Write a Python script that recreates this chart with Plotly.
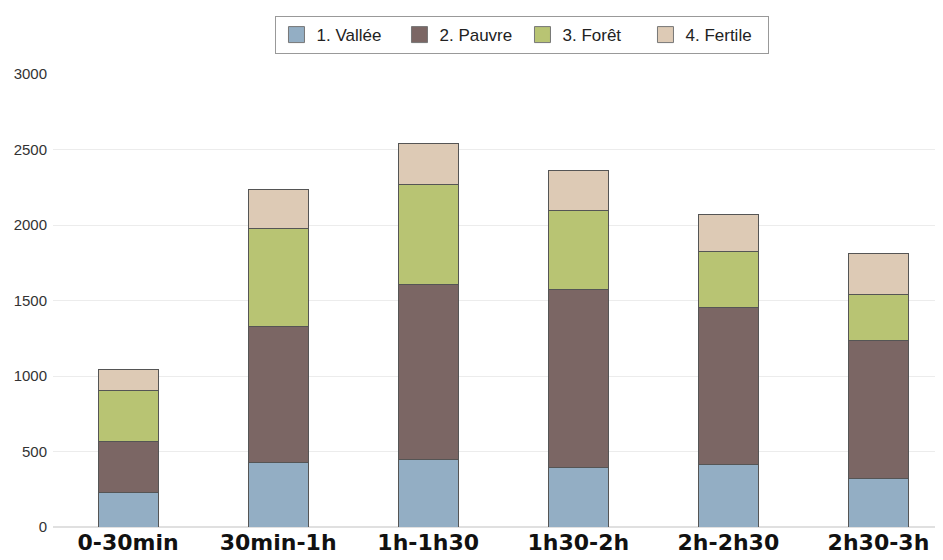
import plotly.graph_objects as go

categories = ["0-30min", "30min-1h", "1h-1h30", "1h30-2h", "2h-2h30", "2h30-3h"]
vallee = [230, 424, 450, 397, 415, 322]
pauvre = [333, 901, 1153, 1179, 1041, 911]
foret = [344, 649, 662, 523, 366, 308]
fertile = [133, 264, 278, 259, 246, 270]

series = [
    ("1. Vallée", vallee, "#93aec4"),
    ("2. Pauvre", pauvre, "#7b6664"),
    ("3. Forêt", foret, "#b8c473"),
    ("4. Fertile", fertile, "#ddcab5"),
]

fig = go.Figure()
for name, vals, col in series:
    fig.add_trace(go.Bar(
        x=categories, y=vals, name=name, legendgroup=name, showlegend=False,
        marker=dict(color=col, line=dict(color="#555555", width=1)),
        width=0.4,
    ))
    # legend entry with a bigger square swatch
    fig.add_trace(go.Scatter(
        x=[None], y=[None], name=name, legendgroup=name, mode="markers",
        marker=dict(symbol="square", size=16, color=col, line=dict(color="#777777", width=1)),
    ))

# page body has an 8px margin, so the figure is a bit smaller than the window
fig.update_layout(
    barmode="stack",
    width=935, height=552,
    margin=dict(l=45, r=0, t=66, b=33, autoexpand=False),
    plot_bgcolor="white",
    paper_bgcolor="white",
    font=dict(family="Liberation Sans, Arial, sans-serif", color="#333333"),
    legend=dict(
        orientation="h", x=0.5275, xanchor="center", y=1.086, yanchor="middle",
        bordercolor="#999999", borderwidth=1, bgcolor="white",
        font=dict(size=17, color="#222222"),
        itemwidth=30, entrywidth=78,
        traceorder="normal",
    ),
    xaxis=dict(
        range=[-0.5, 5.43], automargin=False,
        tickfont=dict(size=22, color="#111111", family="DejaVu Sans, sans-serif"),
        showgrid=False, showline=False, ticks="",
    ),
    yaxis=dict(
        range=[0, 3000], dtick=500, automargin=False,
        gridcolor="#ececec", gridwidth=1,
        tickfont=dict(size=15, color="#333333"),
        zeroline=True, zerolinecolor="#e0e0e0",
        ticks="", ticklabelstandoff=5,
    ),
)
fig.update_xaxes(tickprefix="<b>", ticksuffix="</b>")

fig.write_html("out.html")
